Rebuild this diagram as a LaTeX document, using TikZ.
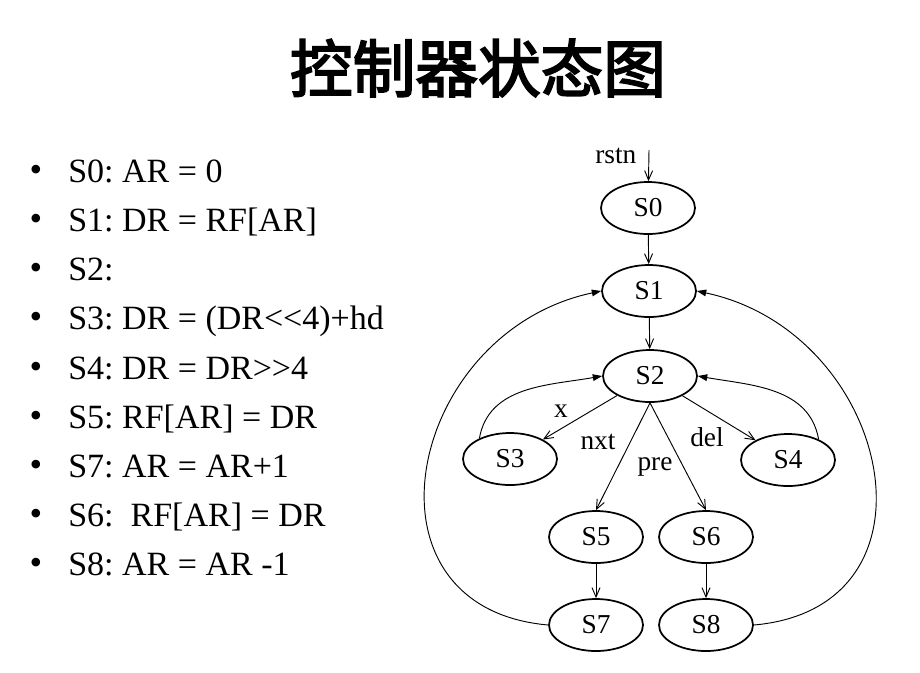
\documentclass[tikz,border=0pt]{standalone}
\usepackage{fontspec}
\setmainfont{Liberation Serif}
\newfontfamily\cjk{Noto Sans CJK SC}[FakeBold=3]
\usetikzlibrary{shapes.geometric,arrows.meta}
\frenchspacing
\begin{document}
\begin{tikzpicture}[x=0.75pt,y=-0.75pt,
  state/.style={ellipse,draw,line width=1.3pt,minimum width=70.5pt,minimum height=39pt,inner sep=0pt,font=\fontsize{20.5}{24}\selectfont},
  lab/.style={font=\fontsize{20.5}{24}\selectfont},
  itemtext/.style={anchor=base west,inner sep=0pt,font=\fontsize{25.5}{30}\selectfont},
  bul/.style={anchor=base,inner sep=0pt,font=\fontsize{27}{30}\selectfont},
  conn/.style={-{Straight Barb[length=7pt,width=6pt]},line width=0.7pt},
  back/.style={-{Triangle[length=7pt,width=5pt]},line width=0.7pt}]
\useasboundingbox (0,0) rectangle (920,672);

% title
\node[font=\cjk\fontsize{47}{50}\selectfont] (title) at (478,68) {控制器状态图};

% list
\node[bul] (b0) at (36,181) {\textbullet};
\node[itemtext] (t0) at (68,182) {S0: AR = 0};
\node[bul] (b1) at (36,230) {\textbullet};
\node[itemtext] (t1) at (68,231) {S1: DR = RF[AR]};
\node[bul] (b2) at (36,279) {\textbullet};
\node[itemtext] (t2) at (68,280) {S2:};
\node[bul] (b3) at (36,328) {\textbullet};
\node[itemtext] (t3) at (68,329) {S3: DR = (DR<{}<4)+hd};
\node[bul] (b4) at (36,378) {\textbullet};
\node[itemtext] (t4) at (68,379) {S4: DR = DR>{}>4};
\node[bul] (b5) at (36,427) {\textbullet};
\node[itemtext] (t5) at (68,428) {S5: RF[AR] = DR};
\node[bul] (b6) at (36,476) {\textbullet};
\node[itemtext] (t6) at (68,477) {S7: AR = AR+1};
\node[bul] (b7) at (36,525) {\textbullet};
\node[itemtext] (t7) at (68,526) {S6: \ RF[AR] = DR};
\node[bul] (b8) at (36,574) {\textbullet};
\node[itemtext] (t8) at (68,575) {S8: AR = AR -1};

% states
\node[state] (s0) at (648,208) {S0};
\node[state] (s1) at (649,291) {S1};
\node[state] (s2) at (650,376) {S2};
\node[state] (s3) at (510,459) {S3};
\node[state] (s4) at (788,460) {S4};
\node[state] (s5) at (596,537) {S5};
\node[state] (s6) at (706,537) {S6};
\node[state] (s7) at (596,625) {S7};
\node[state] (s8) at (706,625) {S8};

% reset
\coordinate (r) at (649,150);
\node[lab,anchor=east] (rstn) at (641,156) {rstn};
\draw[conn] (r) -- (s0);

% transitions
\draw[conn] (s0) -- (s1);
\draw[conn] (s1) -- (s2);
\draw[conn] (s2) -- (s3);
\draw[conn] (s2) -- (s4);
\draw[conn] (s2.south) -- (s5.north);
\draw[conn] (s2.south) -- (s6.north);
\draw[conn] (s5) -- (s7);
\draw[conn] (s6) -- (s8);

\draw[back] (s3.146) to[out=80,in=190] (s2.west);
\draw[back] (s4.34) to[out=100,in=-10] (s2.east);
\draw[back] (s7.west) to[out=175,in=192,looseness=1.5] (s1.west);
\draw[back] (s8.east) to[out=5,in=-12,looseness=1.5] (s1.east);

% labels
\node[lab] (lx) at (561,411) {x};
\node[lab] (lnxt) at (598,442) {nxt};
\node[lab] (lpre) at (655,467) {pre};
\node[lab] (ldel) at (707,437) {del};
\end{tikzpicture}
\end{document}
